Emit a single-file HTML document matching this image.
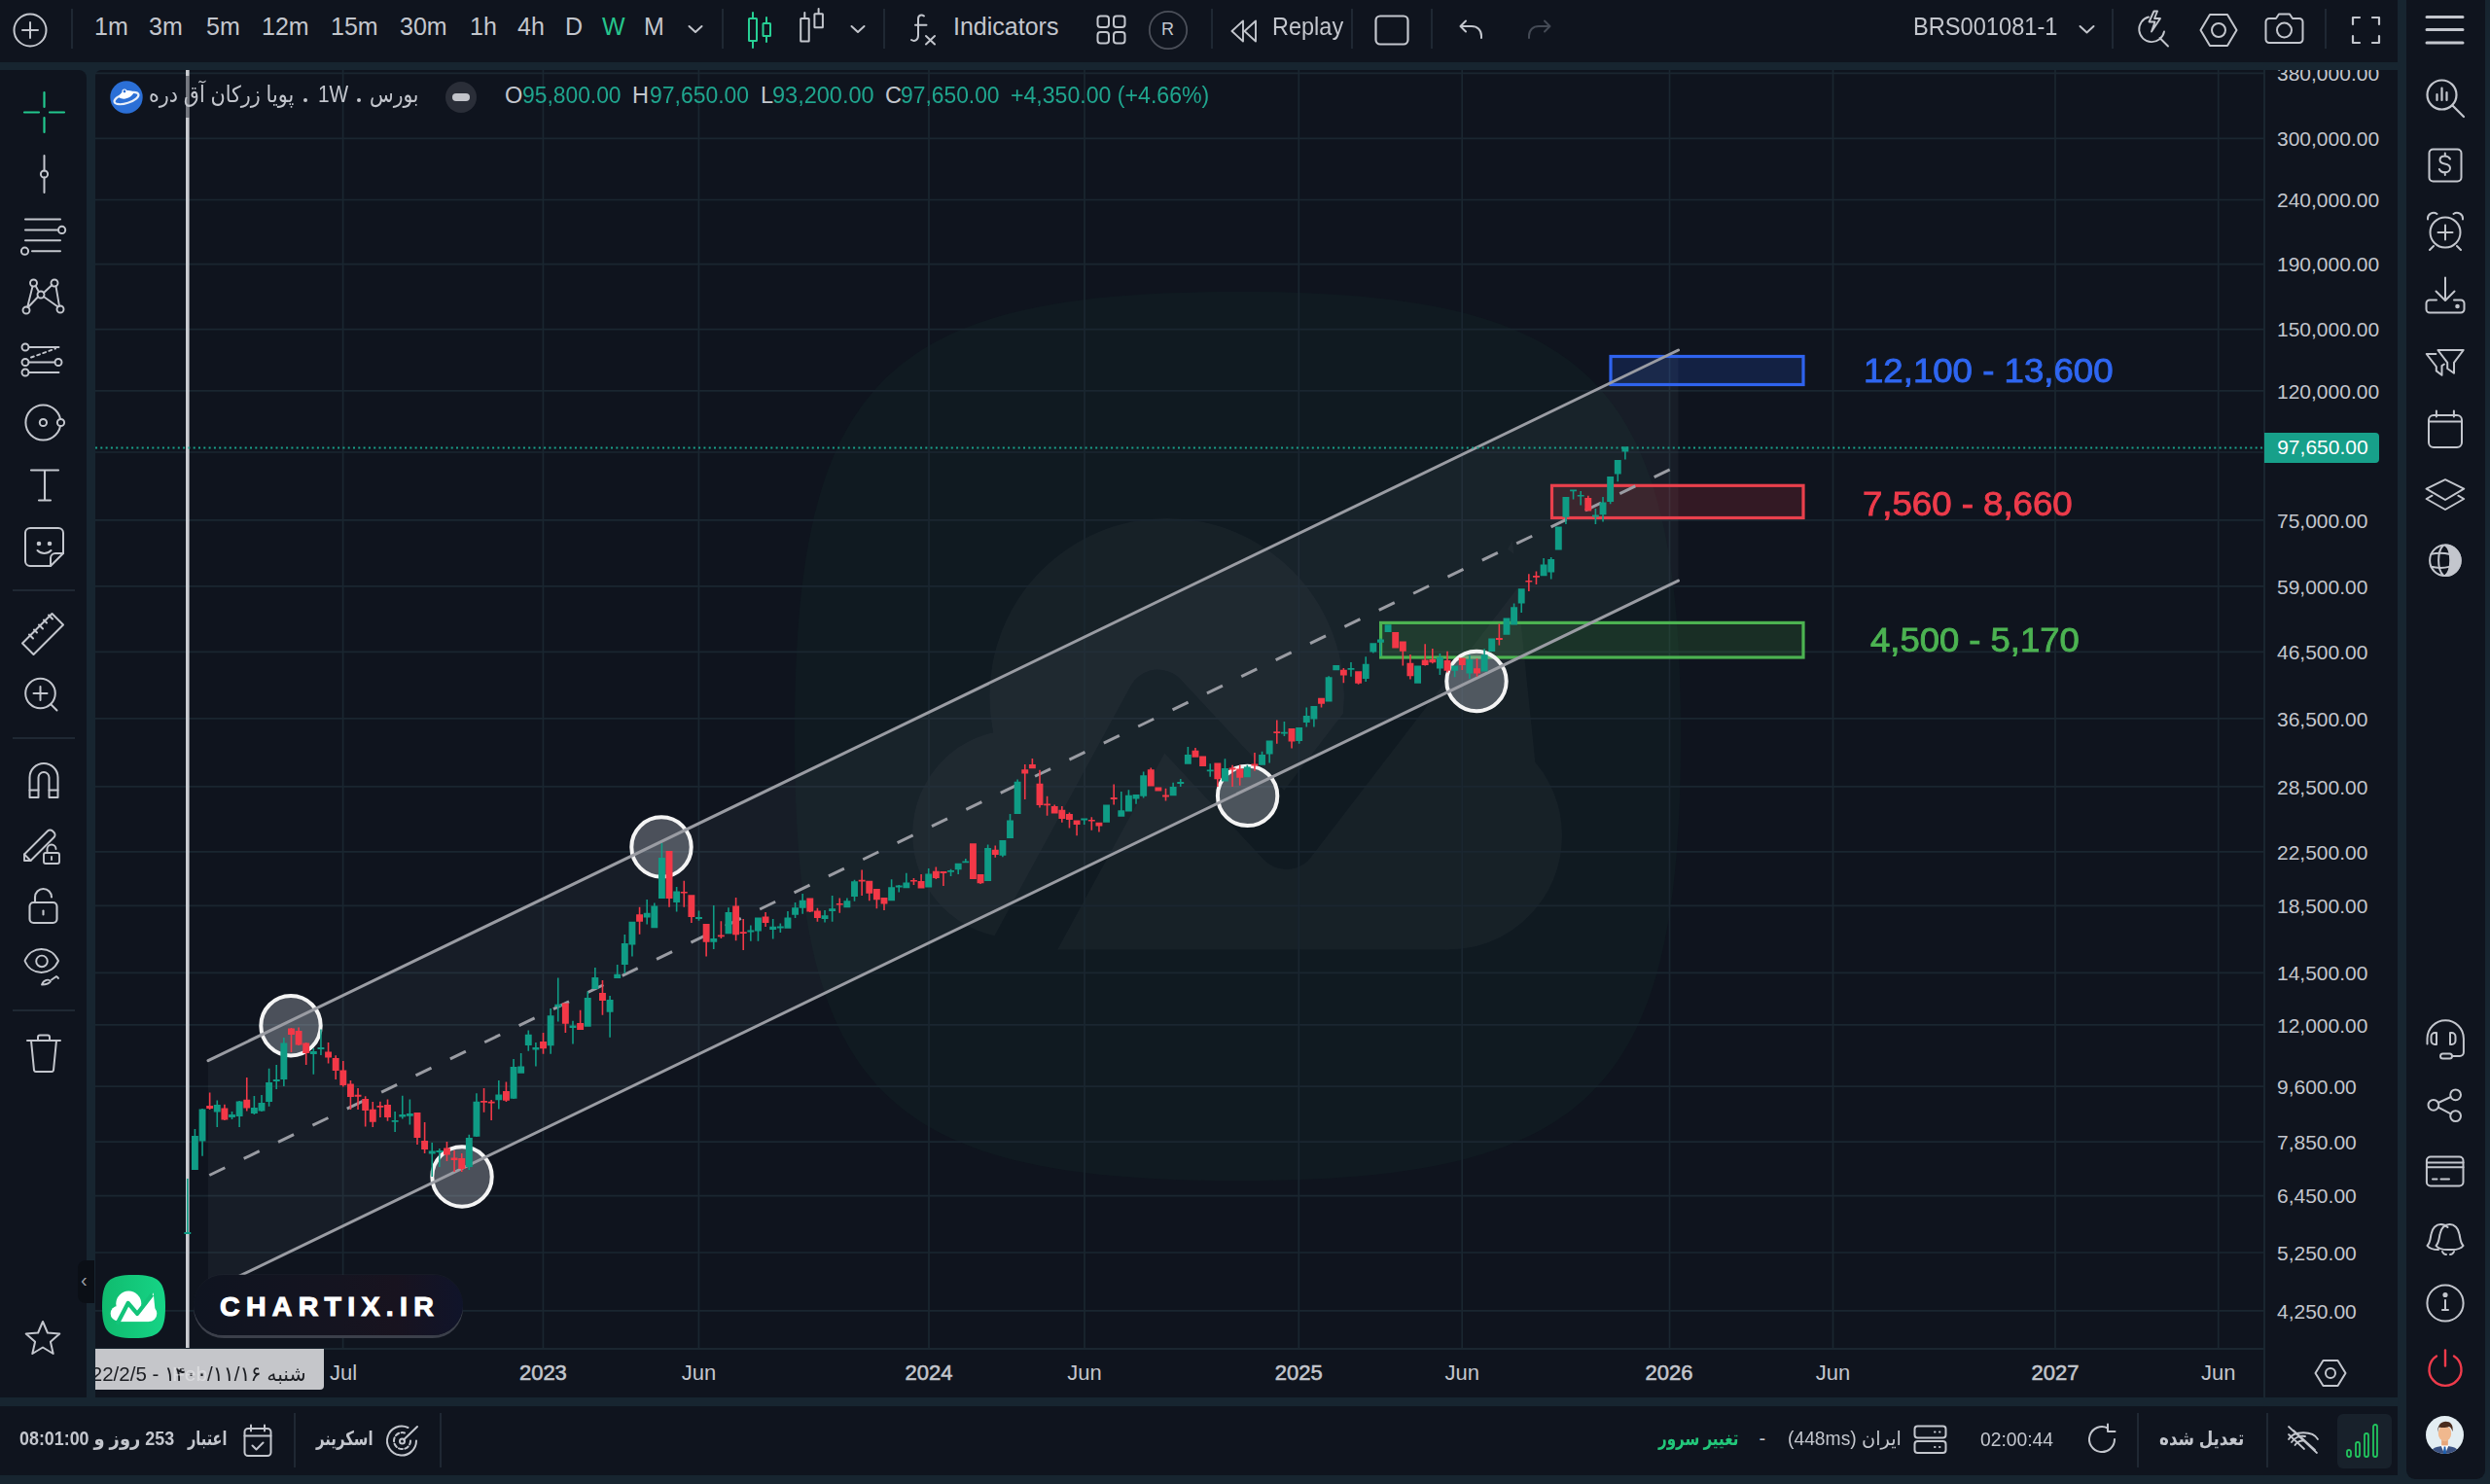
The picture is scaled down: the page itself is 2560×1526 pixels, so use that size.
<!DOCTYPE html>
<html><head><meta charset="utf-8"><title>Chart</title><style>
*{margin:0;padding:0;box-sizing:border-box}
html,body{width:2560px;height:1526px;overflow:hidden;background:#172530}
body{position:relative;font-family:"Liberation Sans","DejaVu Sans",sans-serif;color:#c4c7ce}
.a{position:absolute}
.t{position:absolute;white-space:nowrap;line-height:1}
.fa{font-family:"Liberation Sans","DejaVu Sans",sans-serif}
svg{position:absolute;overflow:visible}
</style></head>
<body>
<div class="a" style="left:0;top:0;width:2465px;height:64px;background:#0f141e"></div><div class="a" style="left:2473.5px;top:0;width:81px;height:1521px;background:#0f141e;border-radius:0 0 9px 9px"></div><div class="a" style="left:0;top:72px;width:89px;height:1365px;background:#0f141e;border-top-right-radius:8px"></div><div class="a" style="left:98px;top:72px;width:2367px;height:1365px;background:#0f141e;border-top-left-radius:6px"></div><div class="a" style="left:0;top:1446px;width:2465px;height:71px;background:#0f141e"></div><svg style="left:98px;top:72px" width="2229" height="1315" viewBox="98 72 2229 1315"><defs><clipPath id="cp"><rect x="98" y="72" width="2229" height="1315" rx="0"/></clipPath><path id="sq" d="M50,0 C90,0 100,10 100,50 C100,90 90,100 50,100 C10,100 0,90 0,50 C0,10 10,0 50,0 Z"/><g id="cloud"><circle cx="42" cy="45.5" r="20"/><circle cx="25" cy="61" r="11.7"/><circle cx="73.8" cy="61.2" r="12.8"/><rect x="25" y="48" width="48.8" height="26"/><polygon points="62,62 81,28 84.5,62"/></g></defs><g clip-path="url(#cp)"><mask id="wm" maskUnits="userSpaceOnUse" x="0" y="0" width="100" height="100"><use href="#cloud" fill="#fff"/><polyline points="23.5,78 41,46 55.5,61.5 80.5,29" fill="none" stroke="#000" stroke-width="7" stroke-linejoin="round"/></mask><g transform="translate(817,300) scale(9.11,9.14)"><use href="#sq" fill="#12302a" fill-opacity="0.26"/><rect width="100" height="100" fill="#ffffff" fill-opacity="0.032" mask="url(#wm)"/></g><line x1="98" x2="2327" y1="75.35" y2="75.35" stroke="#1a2630" stroke-width="1.7"/><line x1="98" x2="2327" y1="142.30" y2="142.30" stroke="#1a2630" stroke-width="1.7"/><line x1="98" x2="2327" y1="205.49" y2="205.49" stroke="#1a2630" stroke-width="1.7"/><line x1="98" x2="2327" y1="271.65" y2="271.65" stroke="#1a2630" stroke-width="1.7"/><line x1="98" x2="2327" y1="338.60" y2="338.60" stroke="#1a2630" stroke-width="1.7"/><line x1="98" x2="2327" y1="401.79" y2="401.79" stroke="#1a2630" stroke-width="1.7"/><line x1="98" x2="2327" y1="464.99" y2="464.99" stroke="#1a2630" stroke-width="1.7"/><line x1="98" x2="2327" y1="534.90" y2="534.90" stroke="#1a2630" stroke-width="1.7"/><line x1="98" x2="2327" y1="602.85" y2="602.85" stroke="#1a2630" stroke-width="1.7"/><line x1="98" x2="2327" y1="670.28" y2="670.28" stroke="#1a2630" stroke-width="1.7"/><line x1="98" x2="2327" y1="738.85" y2="738.85" stroke="#1a2630" stroke-width="1.7"/><line x1="98" x2="2327" y1="808.92" y2="808.92" stroke="#1a2630" stroke-width="1.7"/><line x1="98" x2="2327" y1="875.86" y2="875.86" stroke="#1a2630" stroke-width="1.7"/><line x1="98" x2="2327" y1="931.30" y2="931.30" stroke="#1a2630" stroke-width="1.7"/><line x1="98" x2="2327" y1="1000.29" y2="1000.29" stroke="#1a2630" stroke-width="1.7"/><line x1="98" x2="2327" y1="1053.89" y2="1053.89" stroke="#1a2630" stroke-width="1.7"/><line x1="98" x2="2327" y1="1117.08" y2="1117.08" stroke="#1a2630" stroke-width="1.7"/><line x1="98" x2="2327" y1="1174.07" y2="1174.07" stroke="#1a2630" stroke-width="1.7"/><line x1="98" x2="2327" y1="1229.70" y2="1229.70" stroke="#1a2630" stroke-width="1.7"/><line x1="98" x2="2327" y1="1288.00" y2="1288.00" stroke="#1a2630" stroke-width="1.7"/><line x1="98" x2="2327" y1="1347.84" y2="1347.84" stroke="#1a2630" stroke-width="1.7"/><line x1="352.6" x2="352.6" y1="72" y2="1387" stroke="#1a2630" stroke-width="1.7"/><line x1="558.4" x2="558.4" y1="72" y2="1387" stroke="#1a2630" stroke-width="1.7"/><line x1="718.4" x2="718.4" y1="72" y2="1387" stroke="#1a2630" stroke-width="1.7"/><line x1="955" x2="955" y1="72" y2="1387" stroke="#1a2630" stroke-width="1.7"/><line x1="1115" x2="1115" y1="72" y2="1387" stroke="#1a2630" stroke-width="1.7"/><line x1="1335.3" x2="1335.3" y1="72" y2="1387" stroke="#1a2630" stroke-width="1.7"/><line x1="1503.2" x2="1503.2" y1="72" y2="1387" stroke="#1a2630" stroke-width="1.7"/><line x1="1716.5" x2="1716.5" y1="72" y2="1387" stroke="#1a2630" stroke-width="1.7"/><line x1="1884.5" x2="1884.5" y1="72" y2="1387" stroke="#1a2630" stroke-width="1.7"/><line x1="2113" x2="2113" y1="72" y2="1387" stroke="#1a2630" stroke-width="1.7"/><line x1="2280.7" x2="2280.7" y1="72" y2="1387" stroke="#1a2630" stroke-width="1.7"/><polygon points="214,1090.6 1725.5,360.0 1725.5,597.1 214,1327.7" fill="#8a8f9c" fill-opacity="0.075"/><rect x="1656" y="366.5" width="198" height="29" fill="#2962ff" fill-opacity="0.17" stroke="#2f63ee" stroke-width="3.2"/><rect x="1595.5" y="499.3" width="258.5" height="33.2" fill="#f23645" fill-opacity="0.16" stroke="#e9404c" stroke-width="3.2"/><rect x="1419.6" y="640.4" width="434.4" height="35.6" fill="#4caf50" fill-opacity="0.17" stroke="#4cb351" stroke-width="3.2"/><circle cx="299" cy="1054.7" r="30.7" fill="#b4b8c2" fill-opacity="0.37" stroke="#f4f4f4" stroke-width="4"/><circle cx="475" cy="1210" r="30.7" fill="#b4b8c2" fill-opacity="0.37" stroke="#f4f4f4" stroke-width="4"/><circle cx="680" cy="871" r="30.7" fill="#b4b8c2" fill-opacity="0.37" stroke="#f4f4f4" stroke-width="4"/><circle cx="1282.6" cy="818.4" r="30.7" fill="#b4b8c2" fill-opacity="0.37" stroke="#f4f4f4" stroke-width="4"/><circle cx="1518" cy="700.5" r="30.7" fill="#b4b8c2" fill-opacity="0.37" stroke="#f4f4f4" stroke-width="4"/><line x1="214" y1="1090.6" x2="1725.5" y2="360.0" stroke="#9a9ca3" stroke-width="3" stroke-linecap="round"/><line x1="214" y1="1327.7" x2="1725.5" y2="597.1" stroke="#9a9ca3" stroke-width="3" stroke-linecap="round"/><line x1="215.3" y1="1208.5" x2="1725.5" y2="478.6" stroke="#9a9ca3" stroke-width="3" stroke-dasharray="17.8 21.48"/><rect x="191" y="72" width="3.6" height="1315" fill="#c9cbd0"/><rect x="191" y="78" width="3.6" height="43" fill="#0f141e" fill-opacity="0.45"/><path d="M192.00,1212.0h1.6V1269.0h-1.6Z M189.35,1267.0h6.9V1269.0h-6.9Z M199.62,1161.0h1.6V1203.0h-1.6Z M196.97,1168.0h6.9V1203.0h-6.9Z M207.24,1140.0h1.6V1188.7h-1.6Z M204.59,1140.6h6.9V1173.6h-6.9Z M222.48,1131.5h1.6V1159.0h-1.6Z M219.83,1136.0h6.9V1143.4h-6.9Z M237.71,1143.0h1.6V1151.0h-1.6Z M235.06,1146.0h6.9V1149.0h-6.9Z M245.33,1132.0h1.6V1159.0h-1.6Z M242.68,1132.5h6.9V1148.0h-6.9Z M260.57,1127.0h1.6V1146.0h-1.6Z M257.92,1139.0h6.9V1145.0h-6.9Z M268.19,1126.0h1.6V1143.0h-1.6Z M265.54,1134.0h6.9V1142.5h-6.9Z M275.81,1098.7h1.6V1137.7h-1.6Z M273.16,1113.0h6.9V1133.0h-6.9Z M283.43,1095.0h1.6V1120.0h-1.6Z M280.78,1110.0h6.9V1112.0h-6.9Z M291.05,1067.0h1.6V1117.0h-1.6Z M288.40,1072.6h6.9V1110.0h-6.9Z M321.52,1078.0h1.6V1104.7h-1.6Z M318.87,1081.0h6.9V1084.0h-6.9Z M329.14,1058.5h1.6V1085.0h-1.6Z M326.49,1077.0h6.9V1079.0h-6.9Z M405.33,1143.0h1.6V1164.0h-1.6Z M402.68,1152.0h6.9V1153.7h-6.9Z M412.95,1126.8h1.6V1150.5h-1.6Z M410.30,1146.0h6.9V1148.4h-6.9Z M420.57,1130.6h1.6V1156.4h-1.6Z M417.92,1145.0h6.9V1147.8h-6.9Z M443.43,1175.0h1.6V1210.0h-1.6Z M440.78,1183.6h6.9V1186.6h-6.9Z M451.05,1181.0h1.6V1200.0h-1.6Z M448.40,1183.0h6.9V1185.0h-6.9Z M481.52,1166.7h1.6V1203.0h-1.6Z M478.87,1170.0h6.9V1200.0h-6.9Z M489.14,1124.3h1.6V1169.0h-1.6Z M486.49,1132.7h6.9V1168.7h-6.9Z M512.00,1111.0h1.6V1140.4h-1.6Z M509.35,1125.6h6.9V1131.3h-6.9Z M527.24,1089.0h1.6V1130.0h-1.6Z M524.59,1097.0h6.9V1129.8h-6.9Z M534.86,1083.0h1.6V1103.7h-1.6Z M532.20,1096.5h6.9V1103.7h-6.9Z M542.47,1059.5h1.6V1080.7h-1.6Z M539.82,1063.7h6.9V1075.0h-6.9Z M550.09,1072.0h1.6V1096.5h-1.6Z M547.44,1077.0h6.9V1079.5h-6.9Z M565.33,1037.0h1.6V1083.7h-1.6Z M562.68,1044.3h6.9V1075.2h-6.9Z M572.95,1005.5h1.6V1050.4h-1.6Z M570.30,1032.8h6.9V1035.2h-6.9Z M588.19,1049.8h1.6V1073.4h-1.6Z M585.54,1054.6h6.9V1057.0h-6.9Z M603.43,1019.4h1.6V1055.8h-1.6Z M600.78,1026.0h6.9V1055.8h-6.9Z M611.05,995.0h1.6V1017.0h-1.6Z M608.39,1005.0h6.9V1017.0h-6.9Z M626.28,1024.0h1.6V1066.7h-1.6Z M623.63,1028.0h6.9V1040.7h-6.9Z M633.90,992.0h1.6V1006.0h-1.6Z M631.25,1001.8h6.9V1006.0h-6.9Z M641.52,961.0h1.6V1001.0h-1.6Z M638.87,970.0h6.9V992.0h-6.9Z M649.14,947.8h1.6V983.4h-1.6Z M646.49,947.8h6.9V971.5h-6.9Z M664.38,925.0h1.6V950.5h-1.6Z M661.73,938.7h6.9V943.5h-6.9Z M672.00,928.4h1.6V954.3h-1.6Z M669.35,931.6h6.9V954.3h-6.9Z M679.62,867.0h1.6V924.0h-1.6Z M676.97,882.0h6.9V924.0h-6.9Z M694.85,912.0h1.6V937.6h-1.6Z M692.20,916.5h6.9V928.0h-6.9Z M717.71,936.5h1.6V946.7h-1.6Z M715.06,943.1h6.9V944.9h-6.9Z M732.95,931.0h1.6V975.9h-1.6Z M730.30,965.0h6.9V968.8h-6.9Z M748.19,933.3h1.6V960.2h-1.6Z M745.54,938.0h6.9V960.2h-6.9Z M771.04,951.6h1.6V967.8h-1.6Z M768.39,956.6h6.9V958.4h-6.9Z M778.66,943.5h1.6V967.8h-1.6Z M776.01,943.5h6.9V957.5h-6.9Z M793.90,945.0h1.6V965.6h-1.6Z M791.25,952.7h6.9V956.0h-6.9Z M801.52,949.4h1.6V959.0h-1.6Z M798.87,952.6h6.9V954.4h-6.9Z M809.14,937.0h1.6V954.8h-1.6Z M806.49,943.5h6.9V954.8h-6.9Z M816.76,928.0h1.6V944.0h-1.6Z M814.11,933.3h6.9V940.8h-6.9Z M824.38,919.0h1.6V939.7h-1.6Z M821.73,925.7h6.9V933.8h-6.9Z M847.23,936.0h1.6V948.4h-1.6Z M844.58,941.3h6.9V945.0h-6.9Z M854.85,921.0h1.6V947.8h-1.6Z M852.20,934.3h6.9V937.0h-6.9Z M870.09,923.6h1.6V933.3h-1.6Z M867.44,926.3h6.9V933.3h-6.9Z M877.71,904.7h1.6V926.8h-1.6Z M875.06,906.3h6.9V922.0h-6.9Z M915.81,904.2h1.6V926.3h-1.6Z M913.15,912.2h6.9V926.3h-6.9Z M923.42,910.0h1.6V917.6h-1.6Z M920.77,910.6h6.9V912.4h-6.9Z M931.04,897.7h1.6V913.3h-1.6Z M928.39,907.4h6.9V913.3h-6.9Z M953.90,893.0h1.6V912.6h-1.6Z M951.25,898.5h6.9V912.6h-6.9Z M976.76,893.7h1.6V901.0h-1.6Z M974.11,894.9h6.9V896.7h-6.9Z M984.38,887.8h1.6V899.0h-1.6Z M981.73,887.8h6.9V894.2h-6.9Z M992.00,883.0h1.6V887.2h-1.6Z M989.35,885.6h6.9V887.2h-6.9Z M1014.85,868.4h1.6V906.0h-1.6Z M1012.20,872.0h6.9V906.0h-6.9Z M1030.09,864.0h1.6V881.3h-1.6Z M1027.44,864.0h6.9V879.7h-6.9Z M1037.71,837.0h1.6V861.9h-1.6Z M1035.06,843.6h6.9V861.9h-6.9Z M1045.33,801.5h1.6V837.0h-1.6Z M1042.68,803.7h6.9V837.0h-6.9Z M1113.90,841.6h1.6V847.9h-1.6Z M1111.25,841.6h6.9V843.4h-6.9Z M1136.76,827.4h1.6V845.7h-1.6Z M1134.11,827.4h6.9V845.7h-6.9Z M1151.99,814.0h1.6V839.8h-1.6Z M1149.34,833.3h6.9V839.8h-6.9Z M1159.61,812.3h1.6V834.4h-1.6Z M1156.96,817.7h6.9V834.4h-6.9Z M1167.23,817.0h1.6V826.8h-1.6Z M1164.58,817.0h6.9V821.5h-6.9Z M1174.85,793.4h1.6V820.4h-1.6Z M1172.20,797.2h6.9V818.8h-6.9Z M1205.33,804.7h1.6V818.2h-1.6Z M1202.68,809.0h6.9V818.2h-6.9Z M1212.95,801.0h1.6V809.0h-1.6Z M1210.30,804.1h6.9V805.9h-6.9Z M1220.57,768.0h1.6V785.7h-1.6Z M1217.91,776.0h6.9V785.7h-6.9Z M1243.42,785.2h1.6V798.7h-1.6Z M1240.77,791.6h6.9V793.3h-6.9Z M1258.66,780.3h1.6V803.5h-1.6Z M1256.01,790.0h6.9V803.5h-6.9Z M1281.52,786.8h1.6V799.2h-1.6Z M1278.87,788.4h6.9V799.2h-6.9Z M1296.75,772.8h1.6V786.8h-1.6Z M1294.10,776.0h6.9V786.8h-6.9Z M1304.37,761.5h1.6V784.6h-1.6Z M1301.72,761.5h6.9V775.5h-6.9Z M1319.61,742.0h1.6V757.1h-1.6Z M1316.96,752.8h6.9V754.6h-6.9Z M1334.85,748.0h1.6V764.7h-1.6Z M1332.20,748.0h6.9V762.0h-6.9Z M1342.47,727.5h1.6V747.4h-1.6Z M1339.82,736.1h6.9V743.1h-6.9Z M1350.09,725.9h1.6V747.4h-1.6Z M1347.44,725.9h6.9V739.4h-6.9Z M1365.33,695.2h1.6V721.6h-1.6Z M1362.68,696.3h6.9V721.6h-6.9Z M1372.94,683.9h1.6V689.2h-1.6Z M1370.29,683.9h6.9V689.2h-6.9Z M1388.18,681.0h1.6V695.7h-1.6Z M1385.53,687.0h6.9V688.7h-6.9Z M1403.42,675.2h1.6V701.0h-1.6Z M1400.77,682.8h6.9V697.9h-6.9Z M1411.04,661.2h1.6V671.5h-1.6Z M1408.39,661.2h6.9V670.4h-6.9Z M1418.66,656.4h1.6V674.7h-1.6Z M1416.01,657.4h6.9V660.7h-6.9Z M1426.28,642.3h1.6V649.9h-1.6Z M1423.63,642.3h6.9V649.9h-6.9Z M1456.75,684.4h1.6V702.7h-1.6Z M1454.10,684.4h6.9V702.7h-6.9Z M1479.61,672.0h1.6V694.0h-1.6Z M1476.96,675.8h6.9V687.6h-6.9Z M1494.85,684.4h1.6V696.3h-1.6Z M1492.20,684.4h6.9V689.8h-6.9Z M1510.09,673.6h1.6V698.0h-1.6Z M1507.44,678.0h6.9V692.6h-6.9Z M1525.33,667.3h1.6V690.5h-1.6Z M1522.67,673.2h6.9V690.5h-6.9Z M1532.94,656.5h1.6V670.0h-1.6Z M1530.29,656.5h6.9V670.0h-6.9Z M1548.18,635.5h1.6V652.7h-1.6Z M1545.53,635.5h6.9V652.7h-6.9Z M1555.80,620.4h1.6V642.5h-1.6Z M1553.15,624.2h6.9V642.5h-6.9Z M1563.42,605.3h1.6V630.0h-1.6Z M1560.77,605.3h6.9V620.4h-6.9Z M1586.28,574.0h1.6V592.3h-1.6Z M1583.63,580.5h6.9V592.3h-6.9Z M1593.90,573.0h1.6V595.6h-1.6Z M1591.25,575.0h6.9V588.6h-6.9Z M1601.51,541.4h1.6V565.6h-1.6Z M1598.86,541.4h6.9V565.6h-6.9Z M1609.13,511.0h1.6V539.0h-1.6Z M1606.48,511.0h6.9V531.7h-6.9Z M1616.75,503.5h1.6V513.5h-1.6Z M1614.10,503.5h6.9V505.3h-6.9Z M1624.37,505.0h1.6V519.5h-1.6Z M1621.72,508.9h6.9V510.6h-6.9Z M1639.61,523.0h1.6V539.0h-1.6Z M1636.96,529.6h6.9V531.4h-6.9Z M1647.23,511.0h1.6V536.5h-1.6Z M1644.58,516.6h6.9V529.2h-6.9Z M1654.85,490.0h1.6V518.3h-1.6Z M1652.20,490.0h6.9V516.0h-6.9Z M1662.47,473.0h1.6V495.3h-1.6Z M1659.82,473.0h6.9V487.5h-6.9Z M1670.09,459.2h1.6V472.4h-1.6Z M1667.44,459.2h6.9V464.6h-6.9Z" fill="#0f9c85"/><path d="M214.86,1123.6h1.6V1141.0h-1.6Z M212.21,1137.0h6.9V1140.0h-6.9Z M230.09,1135.8h1.6V1152.0h-1.6Z M227.45,1139.6h6.9V1151.5h-6.9Z M252.95,1108.0h1.6V1142.5h-1.6Z M250.30,1130.8h6.9V1139.6h-6.9Z M298.67,1057.0h1.6V1082.0h-1.6Z M296.02,1057.5h6.9V1064.0h-6.9Z M306.29,1056.6h1.6V1075.0h-1.6Z M303.64,1060.0h6.9V1074.5h-6.9Z M313.90,1072.0h1.6V1095.0h-1.6Z M311.25,1072.6h6.9V1083.0h-6.9Z M336.76,1072.0h1.6V1093.4h-1.6Z M334.11,1081.5h6.9V1087.4h-6.9Z M344.38,1085.3h1.6V1110.0h-1.6Z M341.73,1088.0h6.9V1101.0h-6.9Z M352.00,1091.0h1.6V1117.6h-1.6Z M349.35,1100.4h6.9V1116.0h-6.9Z M359.62,1111.0h1.6V1141.0h-1.6Z M356.97,1114.4h6.9V1127.9h-6.9Z M367.24,1119.0h1.6V1141.0h-1.6Z M364.59,1125.8h6.9V1127.7h-6.9Z M374.86,1127.3h1.6V1158.6h-1.6Z M372.21,1130.0h6.9V1142.0h-6.9Z M382.47,1133.0h1.6V1159.0h-1.6Z M379.82,1140.8h6.9V1153.7h-6.9Z M390.09,1132.7h1.6V1149.0h-1.6Z M387.44,1136.9h6.9V1138.7h-6.9Z M397.71,1130.6h1.6V1152.7h-1.6Z M395.06,1136.0h6.9V1149.0h-6.9Z M428.19,1144.0h1.6V1177.0h-1.6Z M425.54,1144.0h6.9V1170.0h-6.9Z M435.81,1154.0h1.6V1186.0h-1.6Z M433.16,1173.0h6.9V1182.0h-6.9Z M458.66,1174.0h1.6V1194.0h-1.6Z M456.01,1180.5h6.9V1187.6h-6.9Z M466.28,1183.0h1.6V1205.0h-1.6Z M463.63,1190.6h6.9V1193.0h-6.9Z M473.90,1186.0h1.6V1205.0h-1.6Z M471.25,1191.0h6.9V1202.0h-6.9Z M496.76,1119.0h1.6V1143.8h-1.6Z M494.11,1131.9h6.9V1133.8h-6.9Z M504.38,1131.0h1.6V1152.0h-1.6Z M501.73,1132.8h6.9V1134.6h-6.9Z M519.62,1112.5h1.6V1133.0h-1.6Z M516.97,1122.0h6.9V1131.7h-6.9Z M557.71,1062.0h1.6V1083.7h-1.6Z M555.06,1071.0h6.9V1078.3h-6.9Z M580.57,1031.6h1.6V1062.0h-1.6Z M577.92,1031.6h6.9V1052.8h-6.9Z M595.81,1038.8h1.6V1059.0h-1.6Z M593.16,1052.0h6.9V1059.0h-6.9Z M618.66,1008.0h1.6V1043.7h-1.6Z M616.01,1021.0h6.9V1029.0h-6.9Z M656.76,932.7h1.6V960.8h-1.6Z M654.11,940.3h6.9V947.8h-6.9Z M687.24,875.0h1.6V932.7h-1.6Z M684.59,875.0h6.9V924.0h-6.9Z M702.47,905.8h1.6V932.7h-1.6Z M699.82,916.9h6.9V918.6h-6.9Z M710.09,920.3h1.6V949.0h-1.6Z M707.44,920.3h6.9V943.0h-6.9Z M725.33,950.0h1.6V983.4h-1.6Z M722.68,950.0h6.9V968.8h-6.9Z M740.57,947.3h1.6V965.0h-1.6Z M737.92,961.5h6.9V963.3h-6.9Z M755.81,923.0h1.6V967.2h-1.6Z M753.16,931.6h6.9V961.3h-6.9Z M763.42,945.0h1.6V977.0h-1.6Z M760.77,958.3h6.9V960.1h-6.9Z M786.28,938.0h1.6V953.0h-1.6Z M783.63,942.4h6.9V949.0h-6.9Z M832.00,923.6h1.6V938.0h-1.6Z M829.35,923.6h6.9V937.6h-6.9Z M839.62,933.8h1.6V947.8h-1.6Z M836.96,936.5h6.9V944.0h-6.9Z M862.47,923.6h1.6V938.7h-1.6Z M859.82,929.0h6.9V930.6h-6.9Z M885.33,894.4h1.6V920.9h-1.6Z M882.68,904.8h6.9V906.5h-6.9Z M892.95,905.8h1.6V926.3h-1.6Z M890.30,905.8h6.9V918.7h-6.9Z M900.57,913.9h1.6V934.3h-1.6Z M897.92,913.9h6.9V925.2h-6.9Z M908.19,923.0h1.6V936.0h-1.6Z M905.54,923.0h6.9V929.5h-6.9Z M938.66,902.9h1.6V910.0h-1.6Z M936.01,905.0h6.9V906.6h-6.9Z M946.28,899.0h1.6V913.6h-1.6Z M943.63,906.0h6.9V913.6h-6.9Z M961.52,891.5h1.6V904.0h-1.6Z M958.87,895.8h6.9V902.9h-6.9Z M969.14,896.1h1.6V911.0h-1.6Z M966.49,896.1h6.9V897.9h-6.9Z M999.61,867.3h1.6V904.0h-1.6Z M996.96,867.3h6.9V904.0h-6.9Z M1007.23,899.0h1.6V909.0h-1.6Z M1004.58,899.0h6.9V908.2h-6.9Z M1022.47,869.4h1.6V881.8h-1.6Z M1019.82,873.7h6.9V879.0h-6.9Z M1052.95,786.0h1.6V822.0h-1.6Z M1050.30,791.3h6.9V795.6h-6.9Z M1060.57,780.0h1.6V790.2h-1.6Z M1057.92,786.0h6.9V790.2h-6.9Z M1068.18,791.8h1.6V830.6h-1.6Z M1065.53,805.8h6.9V828.0h-6.9Z M1075.80,818.8h1.6V838.7h-1.6Z M1073.15,826.5h6.9V828.3h-6.9Z M1083.42,827.4h1.6V836.5h-1.6Z M1080.77,829.0h6.9V836.5h-6.9Z M1091.04,829.0h1.6V845.7h-1.6Z M1088.39,832.8h6.9V842.0h-6.9Z M1098.66,835.5h1.6V851.6h-1.6Z M1096.01,837.0h6.9V843.0h-6.9Z M1106.28,843.6h1.6V859.2h-1.6Z M1103.63,843.6h6.9V847.9h-6.9Z M1121.52,840.3h1.6V853.8h-1.6Z M1118.87,843.0h6.9V844.6h-6.9Z M1129.14,845.7h1.6V855.4h-1.6Z M1126.49,845.7h6.9V849.5h-6.9Z M1144.38,806.4h1.6V827.4h-1.6Z M1141.72,820.1h6.9V821.9h-6.9Z M1182.47,789.6h1.6V808.5h-1.6Z M1179.82,791.3h6.9V808.5h-6.9Z M1190.09,809.6h1.6V813.4h-1.6Z M1187.44,809.6h6.9V813.4h-6.9Z M1197.71,810.7h1.6V823.6h-1.6Z M1195.06,817.6h6.9V819.4h-6.9Z M1228.18,769.0h1.6V778.7h-1.6Z M1225.53,771.7h6.9V778.7h-6.9Z M1235.80,777.6h1.6V787.9h-1.6Z M1233.15,777.6h6.9V787.9h-6.9Z M1251.04,784.6h1.6V809.0h-1.6Z M1248.39,784.6h6.9V801.3h-6.9Z M1266.28,786.8h1.6V809.0h-1.6Z M1263.63,789.5h6.9V791.6h-6.9Z M1273.90,786.8h1.6V807.8h-1.6Z M1271.25,790.6h6.9V799.7h-6.9Z M1289.14,773.9h1.6V792.7h-1.6Z M1286.49,785.6h6.9V787.4h-6.9Z M1311.99,740.4h1.6V764.7h-1.6Z M1309.34,752.2h6.9V754.0h-6.9Z M1327.23,749.0h1.6V769.5h-1.6Z M1324.58,749.0h6.9V762.5h-6.9Z M1357.71,717.8h1.6V727.5h-1.6Z M1355.06,717.8h6.9V723.7h-6.9Z M1380.56,687.0h1.6V702.2h-1.6Z M1377.91,688.7h6.9V694.6h-6.9Z M1395.80,690.3h1.6V703.8h-1.6Z M1393.15,690.3h6.9V702.7h-6.9Z M1433.90,649.9h1.6V666.6h-1.6Z M1431.25,649.9h6.9V666.6h-6.9Z M1441.52,659.6h1.6V684.4h-1.6Z M1438.87,659.6h6.9V669.8h-6.9Z M1449.13,673.0h1.6V698.4h-1.6Z M1446.48,681.7h6.9V695.2h-6.9Z M1464.37,662.3h1.6V684.4h-1.6Z M1461.72,678.5h6.9V683.9h-6.9Z M1471.99,667.0h1.6V682.2h-1.6Z M1469.34,678.0h6.9V681.2h-6.9Z M1487.23,669.8h1.6V691.4h-1.6Z M1484.58,679.0h6.9V689.8h-6.9Z M1502.47,676.4h1.6V689.0h-1.6Z M1499.82,676.4h6.9V684.0h-6.9Z M1517.71,677.0h1.6V695.8h-1.6Z M1515.06,687.2h6.9V692.6h-6.9Z M1540.56,641.4h1.6V663.5h-1.6Z M1537.91,656.1h6.9V657.9h-6.9Z M1571.04,590.2h1.6V608.0h-1.6Z M1568.39,596.9h6.9V598.6h-6.9Z M1578.66,587.5h1.6V601.0h-1.6Z M1576.01,591.9h6.9V593.7h-6.9Z M1631.99,509.8h1.6V525.6h-1.6Z M1629.34,512.0h6.9V525.6h-6.9Z" fill="#f23847"/><line x1="98" x2="2327" y1="460.5" y2="460.5" stroke="#1aa089" stroke-width="2" stroke-dasharray="2 3.3"/></g></svg><div id="m_1" class="t fa" style="left:1916px;top:362.5725px;font-size:35px;color:#2f66f0;font-weight:400;transform-origin:0 0;transform:scaleX(1.0461);-webkit-text-stroke:0.9px #2f66f0">12,100 - 13,600</div><div id="m_2" class="t fa" style="left:1915px;top:499.57250000000005px;font-size:35px;color:#ee3b4b;font-weight:400;transform-origin:0 0;transform:scaleX(1.0456);-webkit-text-stroke:0.9px #ee3b4b">7,560 - 8,660</div><div id="m_3" class="t fa" style="left:1922.5px;top:639.8725px;font-size:35px;color:#4cb352;font-weight:400;transform-origin:0 0;transform:scaleX(1.0413);-webkit-text-stroke:0.9px #4cb352">4,500 - 5,170</div><svg style="left:113px;top:83px" width="34" height="34" viewBox="0 0 34 34"><circle cx="17" cy="17" r="16.7" fill="#2b6fd6"/><ellipse cx="17" cy="18" rx="13" ry="5" transform="rotate(-18 17 18)" fill="none" stroke="#e8eef8" stroke-width="2.2"/><path d="M9,17 C11,10 20,8 25,12 C22,17 15,21 9,17Z" fill="#ffffff"/><circle cx="15" cy="11" r="2" fill="#2b6fd6" stroke="#fff" stroke-width="1.2"/></svg><div id="m_4" class="t fa" style="left:153.4px;top:85.7px;font-size:23.5px;color:#c3c6cd;font-weight:400;direction:rtl;transform-origin:0 0;transform:scaleX(0.8817);">پویا زرکان آق دره</div><div class="a" style="left:312.3px;top:101px;width:3.6px;height:3.6px;border-radius:2px;background:#c3c6cd"></div><div id="m_5" class="t fa" style="left:327px;top:85.7px;font-size:23.5px;color:#c3c6cd;font-weight:400;transform-origin:0 0;transform:scaleX(0.8857);">1W</div><div class="a" style="left:367.3px;top:101px;width:3.6px;height:3.6px;border-radius:2px;background:#c3c6cd"></div><div id="m_6" class="t fa" style="left:380px;top:85.7px;font-size:23.5px;color:#c3c6cd;font-weight:400;direction:rtl;transform-origin:0 0;transform:scaleX(0.8593);">بورس</div><div class="a" style="left:458px;top:84px;width:32px;height:32px;border-radius:16px;background:#2a2e38"></div><div class="a" style="left:465px;top:96px;width:18px;height:8px;border-radius:4px;background:#c2c4ca"></div><div class="t" style="left:519px;top:87px;font-size:23.5px;color:#c3c6cd">O</div><div id="m_7" class="t fa" style="left:536.5px;top:87px;font-size:23.5px;color:#1fa58e;font-weight:400;transform-origin:0 0;transform:scaleX(0.9714);">95,800.00</div><div class="t" style="left:650px;top:87px;font-size:23.5px;color:#c3c6cd">H</div><div id="m_8" class="t fa" style="left:667.8px;top:87px;font-size:23.5px;color:#1fa58e;font-weight:400;transform-origin:0 0;transform:scaleX(0.9762);">97,650.00</div><div class="t" style="left:782px;top:87px;font-size:23.5px;color:#c3c6cd">L</div><div id="m_9" class="t fa" style="left:794.2px;top:87px;font-size:23.5px;color:#1fa58e;font-weight:400;transform-origin:0 0;transform:scaleX(1.0010);">93,200.00</div><div class="t" style="left:910px;top:87px;font-size:23.5px;color:#c3c6cd">C</div><div id="m_10" class="t fa" style="left:926.2px;top:87px;font-size:23.5px;color:#1fa58e;font-weight:400;transform-origin:0 0;transform:scaleX(0.9714);">97,650.00</div><div id="m_11" class="t fa" style="left:1039px;top:87px;font-size:23.5px;color:#1fa58e;font-weight:400;transform-origin:0 0;transform:scaleX(0.9832);">+4,350.00 (+4.66%)</div><div class="a" style="left:2327px;top:72px;width:1.5px;height:1365px;background:#1a2630"></div><div class="a" style="left:2327px;top:72px;width:138px;height:1315px;overflow:hidden"><div class="t" style="left:14px;top:-6.9px;font-size:21px;color:#c3c6cd">380,000.00</div><div class="t" style="left:14px;top:60.0px;font-size:21px;color:#c3c6cd">300,000.00</div><div class="t" style="left:14px;top:123.2px;font-size:21px;color:#c3c6cd">240,000.00</div><div class="t" style="left:14px;top:189.4px;font-size:21px;color:#c3c6cd">190,000.00</div><div class="t" style="left:14px;top:256.3px;font-size:21px;color:#c3c6cd">150,000.00</div><div class="t" style="left:14px;top:319.5px;font-size:21px;color:#c3c6cd">120,000.00</div><div class="t" style="left:14px;top:452.6px;font-size:21px;color:#c3c6cd">75,000.00</div><div class="t" style="left:14px;top:520.6px;font-size:21px;color:#c3c6cd">59,000.00</div><div class="t" style="left:14px;top:588.0px;font-size:21px;color:#c3c6cd">46,500.00</div><div class="t" style="left:14px;top:656.6px;font-size:21px;color:#c3c6cd">36,500.00</div><div class="t" style="left:14px;top:726.6px;font-size:21px;color:#c3c6cd">28,500.00</div><div class="t" style="left:14px;top:793.6px;font-size:21px;color:#c3c6cd">22,500.00</div><div class="t" style="left:14px;top:849.0px;font-size:21px;color:#c3c6cd">18,500.00</div><div class="t" style="left:14px;top:918.0px;font-size:21px;color:#c3c6cd">14,500.00</div><div class="t" style="left:14px;top:971.6px;font-size:21px;color:#c3c6cd">12,000.00</div><div class="t" style="left:14px;top:1034.8px;font-size:21px;color:#c3c6cd">9,600.00</div><div class="t" style="left:14px;top:1091.8px;font-size:21px;color:#c3c6cd">7,850.00</div><div class="t" style="left:14px;top:1147.4px;font-size:21px;color:#c3c6cd">6,450.00</div><div class="t" style="left:14px;top:1205.7px;font-size:21px;color:#c3c6cd">5,250.00</div><div class="t" style="left:14px;top:1265.5px;font-size:21px;color:#c3c6cd">4,250.00</div></div><div class="a" style="left:2328px;top:445px;width:118px;height:31px;border-radius:0 4px 4px 0;background:#17a08a"></div><div class="t" style="left:2341.2px;top:449px;font-size:21px;color:#ffffff">97,650.00</div><div class="a" style="left:98px;top:1386px;width:2229px;height:2px;background:#1a2630"></div><div class="t" style="left:293px;width:120px;text-align:center;top:1401.3px;font-size:22px;color:#c3c6cd;">Jul</div><div class="t" style="left:498.4px;width:120px;text-align:center;top:1401.3px;font-size:22px;color:#c3c6cd;-webkit-text-stroke:0.55px #c3c6cd;">2023</div><div class="t" style="left:658.4px;width:120px;text-align:center;top:1401.3px;font-size:22px;color:#c3c6cd;">Jun</div><div class="t" style="left:895px;width:120px;text-align:center;top:1401.3px;font-size:22px;color:#c3c6cd;-webkit-text-stroke:0.55px #c3c6cd;">2024</div><div class="t" style="left:1055px;width:120px;text-align:center;top:1401.3px;font-size:22px;color:#c3c6cd;">Jun</div><div class="t" style="left:1275.3px;width:120px;text-align:center;top:1401.3px;font-size:22px;color:#c3c6cd;-webkit-text-stroke:0.55px #c3c6cd;">2025</div><div class="t" style="left:1443.2px;width:120px;text-align:center;top:1401.3px;font-size:22px;color:#c3c6cd;">Jun</div><div class="t" style="left:1656px;width:120px;text-align:center;top:1401.3px;font-size:22px;color:#c3c6cd;-webkit-text-stroke:0.55px #c3c6cd;">2026</div><div class="t" style="left:1824.5px;width:120px;text-align:center;top:1401.3px;font-size:22px;color:#c3c6cd;">Jun</div><div class="t" style="left:2053px;width:120px;text-align:center;top:1401.3px;font-size:22px;color:#c3c6cd;-webkit-text-stroke:0.55px #c3c6cd;">2027</div><div class="t" style="left:2220.7px;width:120px;text-align:center;top:1401.3px;font-size:22px;color:#c3c6cd;">Jun</div><div class="a" style="left:98px;top:1387px;width:235px;height:42px;background:#c5c6ca;border-radius:0 0 4px 0;overflow:hidden"><div id="m_12" class="t fa" style="left:-27px;top:14.523499999999952px;font-size:21px;color:#1b1d22;font-weight:400;transform-origin:0 0;transform:scaleX(0.9760);">2022/2/5 - ۱۴۰۰/۱۱/۱۶ شنبه</div><div class="t" style="left:79px;top:14.5px;font-size:21px;color:#f0f0f2;opacity:0.5">Feb</div></div><svg style="left:105px;top:1311px" width="65" height="65" viewBox="0 0 100 100"><defs><linearGradient id="lg" x1="0" y1="0" x2="1" y2="0"><stop offset="0" stop-color="#10bb6e"/><stop offset="1" stop-color="#16d486"/></linearGradient></defs><use href="#sq" fill="url(#lg)"/><use href="#cloud" fill="#ffffff"/><polyline points="23.5,78 41,44.5 55.5,61.5 79,31" fill="none" stroke="#13c47a" stroke-width="6.5" stroke-linejoin="round"/></svg><div class="a" style="left:199px;top:1311px;width:277px;height:62px;border-radius:31px;background:linear-gradient(90deg,#0f1420 0%,#151420 55%,#18131f 75%,#10142a 100%);box-shadow:0 3px 0 #3b3f4a, 0 -1px 0 rgba(40,44,56,0.3)"></div><div class="t" style="left:226px;top:1328.5px;font-size:28.5px;font-weight:700;color:#ffffff;letter-spacing:6.3px;-webkit-text-stroke:1.1px #fff">CHARTIX.IR</div><div class="a" style="left:80px;top:1296px;width:17px;height:44px;border-radius:8px 0 0 8px;background:#0b0f16"></div><div class="t" style="left:83px;top:1306px;font-size:20px;color:#9a9da5">‹</div><svg style="left:13px;top:13px" width="36" height="36" viewBox="0 0 36 36" fill="none" stroke="#c3c6cd" stroke-width="2" stroke-linecap="round" stroke-linejoin="round"><circle cx="18" cy="18" r="16.5"/><path d="M18 10v16M10 18h16"/></svg><div class="a" style="left:73px;top:9px;width:2px;height:41px;background:#1f2833"></div><div class="t" style="left:97px;top:15px;font-size:25px;color:#c3c6cd">1m</div><div class="t" style="left:153px;top:15px;font-size:25px;color:#c3c6cd">3m</div><div class="t" style="left:212px;top:15px;font-size:25px;color:#c3c6cd">5m</div><div class="t" style="left:269px;top:15px;font-size:25px;color:#c3c6cd">12m</div><div class="t" style="left:340px;top:15px;font-size:25px;color:#c3c6cd">15m</div><div class="t" style="left:411px;top:15px;font-size:25px;color:#c3c6cd">30m</div><div class="t" style="left:483px;top:15px;font-size:25px;color:#c3c6cd">1h</div><div class="t" style="left:532px;top:15px;font-size:25px;color:#c3c6cd">4h</div><div class="t" style="left:581px;top:15px;font-size:25px;color:#c3c6cd">D</div><div class="t" style="left:619px;top:15px;font-size:25px;color:#26c48c">W</div><div class="t" style="left:662px;top:15px;font-size:25px;color:#c3c6cd">M</div><svg style="left:707px;top:25px" width="17" height="10" viewBox="0 0 17 10" fill="none" stroke="#c3c6cd" stroke-width="2" stroke-linecap="round" stroke-linejoin="round"><path d="M1.5 2l6.5 6 6.5-6"/></svg><div class="a" style="left:742px;top:9px;width:2px;height:41px;background:#1f2833"></div><svg style="left:766px;top:11px" width="30" height="40" viewBox="0 0 30 40" fill="none" stroke="#27cf94" stroke-width="2" stroke-linecap="round" stroke-linejoin="round"><path d="M8 2v6M8 31v7"/><rect x="4" y="8" width="8" height="23" rx="0.5"/><path d="M22 7v6M22 26v6"/><rect x="18.5" y="13" width="7.5" height="13" rx="0.5"/></svg><svg style="left:820px;top:7px" width="30" height="40" viewBox="0 0 30 40" fill="none" stroke="#c3c6cd" stroke-width="2" stroke-linecap="round" stroke-linejoin="round"><path d="M7.3 6v6"/><rect x="3.2" y="12" width="8.5" height="23.5" rx="0.5"/><path d="M21.6 2v5"/><rect x="17.4" y="7.3" width="8.5" height="14" rx="0.5"/></svg><svg style="left:874px;top:25px" width="16" height="10" viewBox="0 0 16 10" fill="none" stroke="#c3c6cd" stroke-width="2" stroke-linecap="round" stroke-linejoin="round"><path d="M1.5 2l6.5 6 6.5-6"/></svg><div class="a" style="left:908px;top:9px;width:2px;height:41px;background:#1f2833"></div><svg style="left:935px;top:13px" width="30" height="34" viewBox="0 0 30 34" fill="none" stroke="#c3c6cd" stroke-width="2" stroke-linecap="round" stroke-linejoin="round"><path d="M15 3.5c-2.5-2-6-1-6 3v17c0 5-4 6.5-7 4.5"/><path d="M6 12.8h11.5"/><path d="M17 24l9 8.5M26 24l-9 8.5"/></svg><div class="t" style="left:980px;top:15px;font-size:25px;color:#c3c6cd">Indicators</div><svg style="left:1127px;top:15px" width="32" height="32" viewBox="0 0 32 32" fill="none" stroke="#c3c6cd" stroke-width="2" stroke-linecap="round" stroke-linejoin="round"><rect x="1.5" y="1.5" width="11.5" height="11.5" rx="3"/><rect x="18" y="1.5" width="11.5" height="11.5" rx="3"/><rect x="1.5" y="18" width="11.5" height="11.5" rx="3"/><rect x="18" y="18" width="11.5" height="11.5" rx="3"/></svg><svg style="left:1180px;top:10px" width="42" height="42" viewBox="0 0 42 42" fill="none" stroke="#4b4f59" stroke-width="1.8" stroke-linecap="round" stroke-linejoin="round"><circle cx="21" cy="21" r="19.2"/></svg><div class="t" style="left:1194px;top:21px;font-size:18px;color:#c3c6cd">R</div><div class="a" style="left:1245px;top:9px;width:2px;height:41px;background:#1f2833"></div><svg style="left:1265px;top:20px" width="30" height="24" viewBox="0 0 30 24" fill="none" stroke="#c3c6cd" stroke-width="1.9" stroke-linecap="round" stroke-linejoin="round"><path d="M13 1.5v21L1.5 12Z"/><path d="M26 1.5v21L14.5 12Z"/></svg><div id="m_13" class="t fa" style="left:1308.2px;top:15px;font-size:25px;color:#c3c6cd;font-weight:400;transform-origin:0 0;transform:scaleX(0.9397);">Replay</div><div class="a" style="left:1389px;top:9px;width:2px;height:41px;background:#1f2833"></div><svg style="left:1413px;top:15px" width="36" height="32" viewBox="0 0 36 32" fill="none" stroke="#c3c6cd" stroke-width="2.2" stroke-linecap="round" stroke-linejoin="round"><rect x="1.5" y="1.5" width="33" height="29" rx="4.5"/></svg><div class="a" style="left:1471px;top:9px;width:2px;height:41px;background:#1f2833"></div><svg style="left:1500px;top:20px" width="28" height="22" viewBox="0 0 28 22" fill="none" stroke="#c3c6cd" stroke-width="2" stroke-linecap="round" stroke-linejoin="round"><path d="M7 1.5L1.5 7l5.5 5.5"/><path d="M2 7h11c6 0 10 4 10 10v2"/></svg><svg style="left:1567px;top:20px" width="28" height="22" viewBox="0 0 28 22" fill="none" stroke="#444a55" stroke-width="2" stroke-linecap="round" stroke-linejoin="round"><path d="M21 1.5L26.5 7 21 12.5"/><path d="M26 7H15C9 7 5 11 5 17v2"/></svg><div id="m_14" class="t fa" style="left:1966.6px;top:15.3px;font-size:25px;color:#c3c6cd;font-weight:400;transform-origin:0 0;transform:scaleX(0.9452);">BRS001081-1</div><svg style="left:2137px;top:25px" width="17" height="10" viewBox="0 0 17 10" fill="none" stroke="#c3c6cd" stroke-width="2" stroke-linecap="round" stroke-linejoin="round"><path d="M1.5 2l7 6.5 7-6.5"/></svg><div class="a" style="left:2171px;top:9px;width:2px;height:41px;background:#1f2833"></div><svg style="left:2195px;top:9px" width="40" height="42" viewBox="0 0 40 42" fill="none" stroke="#c3c6cd" stroke-width="1.9" stroke-linecap="round" stroke-linejoin="round"><path d="M14 8.5a13 13 0 1 0 16 15"/><path d="M25.5 30l8.5 8.5"/><path d="M19.5 2.5l-5 11h6l-3.5 10 9-13.5h-6l3-7.5z"/></svg><svg style="left:2261px;top:13px" width="40" height="36" viewBox="0 0 40 36" fill="none" stroke="#c3c6cd" stroke-width="2" stroke-linecap="round" stroke-linejoin="round"><path d="M11 2h18l9.5 16-9.5 16H11L1.5 18Z"/><circle cx="20" cy="18" r="7"/></svg><svg style="left:2328px;top:13px" width="41" height="33" viewBox="0 0 41 33" fill="none" stroke="#c3c6cd" stroke-width="2" stroke-linecap="round" stroke-linejoin="round"><path d="M5 6h7l3-4.5h11l3 4.5h7a3.5 3.5 0 0 1 3.5 3.5v18a3.5 3.5 0 0 1-3.5 3.5H5a3.5 3.5 0 0 1-3.5-3.5v-18A3.5 3.5 0 0 1 5 6z"/><circle cx="20.5" cy="18" r="7.5"/></svg><div class="a" style="left:2390px;top:9px;width:2px;height:41px;background:#1f2833"></div><svg style="left:2417px;top:16px" width="31" height="30" viewBox="0 0 31 30" fill="none" stroke="#c3c6cd" stroke-width="2.2" stroke-linecap="round" stroke-linejoin="round"><path d="M2 9V2h7M22 2h7v7M29 21v7h-7M9 28H2v-7"/></svg><svg style="left:2493px;top:14px" width="42" height="34" viewBox="0 0 42 34" fill="none" stroke="#c3c6cd" stroke-width="3" stroke-linecap="round" stroke-linejoin="round"><path d="M2 3.5h37M2 16.5h37M2 30h37"/></svg><svg style="left:22px;top:92px" width="48" height="48" viewBox="0 0 48 48" fill="none" stroke="#22c88e" stroke-width="2.2" stroke-linecap="round" stroke-linejoin="round"><path d="M23.5 3v15M23.5 29v15M3 23.5h15M29 23.5h15"/></svg><svg style="left:36px;top:158px" width="20" height="42" viewBox="0 0 20 42" fill="none" stroke="#c3c6cd" stroke-width="2" stroke-linecap="round" stroke-linejoin="round"><path d="M9.5 2v15.5M9.5 24.5V40"/><circle cx="9.5" cy="21" r="3.6"/></svg><svg style="left:20px;top:220px" width="50" height="44" viewBox="0 0 50 44" fill="none" stroke="#c3c6cd" stroke-width="2" stroke-linecap="round" stroke-linejoin="round"><path d="M6 5.5h36M6 16.5h33M6 27.3h36M13 38.2h29"/><circle cx="43.6" cy="16.4" r="3.6"/><circle cx="5.5" cy="38.2" r="3.6"/></svg><svg style="left:20px;top:284px" width="50" height="44" viewBox="0 0 50 44" fill="none" stroke="#c3c6cd" stroke-width="1.9" stroke-linecap="round" stroke-linejoin="round"><circle cx="14.5" cy="7" r="3.5"/><circle cx="36" cy="7" r="3.5"/><circle cx="22" cy="19" r="3.5"/><circle cx="7" cy="35" r="3.5"/><circle cx="42" cy="34" r="3.5"/><path d="M8.2 31.7l5.3-21.3M16.5 9.7l3.5 6.5M25 17l8.5-8M37.5 10.3l3.5 20.5M24.8 21l14.8 10.5M8.8 32l10.5-11"/></svg><svg style="left:18px;top:350px" width="50" height="42" viewBox="0 0 50 42" fill="none" stroke="#c3c6cd" stroke-width="1.9" stroke-linecap="round" stroke-linejoin="round"><circle cx="8" cy="7" r="3.5"/><path d="M11.5 7h31"/><circle cx="8" cy="22.5" r="3.5"/><path d="M11.5 22.5h27"/><circle cx="42" cy="22.5" r="3.5"/><circle cx="8" cy="33" r="3.5"/><path d="M11.5 33h31"/><path d="M14 17.5l25-9" stroke-dasharray="3 3.5"/></svg><svg style="left:22px;top:413px" width="46" height="44" viewBox="0 0 46 44" fill="none" stroke="#c3c6cd" stroke-width="2" stroke-linecap="round" stroke-linejoin="round"><circle cx="22.4" cy="21.5" r="18"/><circle cx="22.4" cy="21.5" r="3.6"/><circle cx="40.5" cy="21.5" r="3.6" fill="#0f141e"/></svg><svg style="left:30px;top:480px" width="32" height="38" viewBox="0 0 32 38" fill="none" stroke="#c3c6cd" stroke-width="2.1" stroke-linecap="round" stroke-linejoin="round"><path d="M2 3.5h28M16 3.5v31M10 34.5h12"/></svg><svg style="left:24px;top:541px" width="44" height="44" viewBox="0 0 44 44" fill="none" stroke="#c3c6cd" stroke-width="2" stroke-linecap="round" stroke-linejoin="round"><path d="M28 41H7a5 5 0 0 1-5-5V7a5 5 0 0 1 5-5h29a5 5 0 0 1 5 5v21L28 41z"/><path d="M28 41v-8a5 5 0 0 1 5-5h8"/><circle cx="16" cy="18" r="1.3" fill="#c3c6cd"/><circle cx="27" cy="18" r="1.3" fill="#c3c6cd"/><path d="M14.5 25c4 4 10 4 14 0"/></svg><div class="a" style="left:13px;top:606px;width:64px;height:2px;background:#1f2833"></div><svg style="left:20px;top:628px" width="50" height="48" viewBox="0 0 50 48" fill="none" stroke="#c3c6cd" stroke-width="2" stroke-linecap="round" stroke-linejoin="round"><path d="M3 35.5L33.5 5l11.5 11.5L14.5 47z" transform="translate(0,-2)"/><path d="M10 26.5l4 4M15 21.5l3 3M20 16.5l4 4M25 11.5l3 3M30 6.5l4 4" transform="translate(0,-2)"/></svg><svg style="left:24px;top:695px" width="40" height="40" viewBox="0 0 40 40" fill="none" stroke="#c3c6cd" stroke-width="2" stroke-linecap="round" stroke-linejoin="round"><circle cx="17.5" cy="18" r="15.3"/><path d="M28.5 29.5l6 6M17.5 11v14M10.5 18h14"/></svg><div class="a" style="left:13px;top:758px;width:64px;height:2px;background:#1f2833"></div><svg style="left:27px;top:783px" width="36" height="40" viewBox="0 0 36 40" fill="none" stroke="#c3c6cd" stroke-width="2" stroke-linecap="round" stroke-linejoin="round"><path d="M3.5 37V16.5a14.5 14.5 0 0 1 29 0V37h-9V16.5a5.5 5.5 0 0 0-11 0V37Z"/><path d="M3.5 29.5h9M23.5 29.5h9"/></svg><svg style="left:22px;top:847px" width="46" height="44" viewBox="0 0 46 44" fill="none" stroke="#c3c6cd" stroke-width="1.9" stroke-linecap="round" stroke-linejoin="round"><path d="M3 31.5L27 7.5a3.5 3.5 0 0 1 5 0l1.5 1.5a3.5 3.5 0 0 1 0 5L9.5 38H3Z"/><path d="M3 31.5l6.5 6.5"/><rect x="23" y="30" width="16" height="11" rx="2"/><path d="M26.5 30v-4a4.5 4.5 0 0 1 9 0" /><path d="M31 34v3"/></svg><svg style="left:28px;top:912px" width="34" height="40" viewBox="0 0 34 40" fill="none" stroke="#c3c6cd" stroke-width="2.1" stroke-linecap="round" stroke-linejoin="round"><rect x="2.5" y="16" width="28" height="21" rx="4"/><path d="M8 16V10.5a8.5 8.5 0 0 1 17 0"/><path d="M16.5 24.5v4"/></svg><svg style="left:22px;top:972px" width="46" height="46" viewBox="0 0 46 46" fill="none" stroke="#c3c6cd" stroke-width="1.9" stroke-linecap="round" stroke-linejoin="round"><path d="M3.5 16C10 0 31 0 38 16C31 32 10 32 3.5 16Z"/><circle cx="21" cy="16.4" r="5.8"/><path d="M21 40.5c2-5 7-6 9-3.5c-1.5 2.5-5 3.5-9 3.5Z"/><path d="M31 35.5l5-3.5c1 .5 1.5 1 2 2"/></svg><div class="a" style="left:13px;top:1038px;width:64px;height:2px;background:#1f2833"></div><svg style="left:26px;top:1062px" width="38" height="42" viewBox="0 0 38 42" fill="none" stroke="#c3c6cd" stroke-width="2" stroke-linecap="round" stroke-linejoin="round"><path d="M2 8h34M13 8V4.5a2 2 0 0 1 2-2h8a2 2 0 0 1 2 2V8M6 8l3 30.5a2 2 0 0 0 2 1.5h16a2 2 0 0 0 2-1.5L32 8"/></svg><svg style="left:24px;top:1356px" width="40" height="40" viewBox="0 0 40 40" fill="none" stroke="#c3c6cd" stroke-width="2" stroke-linecap="round" stroke-linejoin="round"><path d="M20 3l4.9 11.5 12.4 1.1-9.4 8.2 2.8 12.2L20 29.5 9.3 36l2.8-12.2-9.4-8.2 12.4-1.1Z"/></svg><svg style="left:2492px;top:79px" width="44" height="44" viewBox="0 0 44 44" fill="none" stroke="#c3c6cd" stroke-width="2.2" stroke-linecap="round" stroke-linejoin="round"><circle cx="18.5" cy="18.5" r="15"/><path d="M29.5 29.5l11.5 11.5"/><path d="M13.5 24v-6M18.5 24V11.5M23.5 24v-8"/></svg><svg style="left:2496px;top:152px" width="36" height="36" viewBox="0 0 36 36" fill="none" stroke="#c3c6cd" stroke-width="2" stroke-linecap="round" stroke-linejoin="round"><rect x="1.5" y="1.5" width="33" height="33" rx="4"/><path d="M23 11.5c-1-2-3-3-5.5-3c-3 0-5 1.6-5 4s2 3.4 5 4s5.5 1.8 5.5 4.5s-2.5 4.3-5.5 4.3c-2.6 0-4.6-1.2-5.6-3.3M17.8 5.5v3M17.8 25v3"/></svg><svg style="left:2493px;top:217px" width="42" height="42" viewBox="0 0 42 42" fill="none" stroke="#c3c6cd" stroke-width="2" stroke-linecap="round" stroke-linejoin="round"><circle cx="21" cy="22" r="15.5"/><path d="M21 14.5v15M13.5 22h15"/><path d="M3 8.5a6 6 0 0 1 9.5-5.5M39 8.5a6 6 0 0 0-9.5-5.5M9 36l-4 4M33 36l4 4"/></svg><svg style="left:2493px;top:284px" width="42" height="40" viewBox="0 0 42 40" fill="none" stroke="#c3c6cd" stroke-width="2" stroke-linecap="round" stroke-linejoin="round"><path d="M21 1.5v23M11.5 15.5l9.5 9.5 9.5-9.5"/><path d="M12 24.5H5a3.5 3.5 0 0 0-3.5 3.5v6A3.5 3.5 0 0 0 5 37.5h32a3.5 3.5 0 0 0 3.5-3.5v-6A3.5 3.5 0 0 0 37 24.5h-7"/><circle cx="33.5" cy="31" r="1.3" fill="#c3c6cd"/></svg><svg style="left:2485px;top:345px" width="60" height="60" viewBox="0 0 60 60" fill="none" stroke="#c3c6cd" stroke-width="2" stroke-linecap="round" stroke-linejoin="round"><path d="M21.4 15H47.7L38 27.9V38.8L31.2 34V27.9Z"/><path d="M19.4 19H9.7L19.8 32V36.4L25.5 40.8V31.1L27.9 29.5"/></svg><svg style="left:2496px;top:422px" width="36" height="38" viewBox="0 0 36 38" fill="none" stroke="#c3c6cd" stroke-width="2" stroke-linecap="round" stroke-linejoin="round"><rect x="1" y="5" width="34" height="33" rx="5"/><path d="M1 11.4h34M8.9 0.5v6M26.9 0.5v6"/></svg><svg style="left:2493px;top:491px" width="42" height="34" viewBox="0 0 42 34" fill="none" stroke="#c3c6cd" stroke-width="2" stroke-linecap="round" stroke-linejoin="round"><path d="M1.6 11.6L21 2.2 40.2 11.6 21 23Z"/><path d="M7.5 18.7L1.6 22 21 33 40.2 22 34.3 18.7"/></svg><svg style="left:2485px;top:546px" width="60" height="60" viewBox="0 0 60 60" fill="none" stroke="#c3c6cd" stroke-width="2" stroke-linecap="round" stroke-linejoin="round"><path d="M28.9 14.5C36 20 36 40.5 28.9 46.1A15.8 15.8 0 0 0 28.9 14.5Z" fill="#c3c6cd"/><circle cx="28.9" cy="30.3" r="15.8"/><path d="M27 14.8C20.5 21 20.5 39.5 27 45.8"/><path d="M14.5 23.8C20 22.5 28 22.5 34 24M14.5 36.8C20 38.1 28 38.1 34 36.6"/></svg><svg style="left:2490px;top:1045px" width="48" height="48" viewBox="0 0 48 48" fill="none" stroke="#c3c6cd" stroke-width="2" stroke-linecap="round" stroke-linejoin="round"><path d="M5.5 28.5V23a18.7 18.7 0 0 1 37.4 0v14a4 4 0 0 1-4 4h-8"/><path d="M15 17h-1.5a4 4 0 0 0-4 4v4a4 4 0 0 0 4 4H15z"/><path d="M33.5 17H35a4 4 0 0 1 4 4v4a4 4 0 0 1-4 4h-1.5z" transform="translate(-4.5,0)"/><rect x="19" y="38.5" width="12" height="5" rx="2.5"/></svg><svg style="left:2490px;top:1113px" width="48" height="48" viewBox="0 0 48 48" fill="none" stroke="#c3c6cd" stroke-width="2" stroke-linecap="round" stroke-linejoin="round"><circle cx="34.6" cy="12.8" r="5.4"/><circle cx="11.9" cy="23.3" r="5.4"/><circle cx="34.6" cy="34.6" r="5.4"/><path d="M16.8 21l12.9-6M16.8 25.6l12.9 6.7"/></svg><svg style="left:2490px;top:1181px" width="48" height="48" viewBox="0 0 48 48" fill="none" stroke="#c3c6cd" stroke-width="2" stroke-linecap="round" stroke-linejoin="round"><rect x="4.9" y="8.6" width="37.6" height="29.8" rx="4"/><path d="M4.9 14.5h37.6M4.9 19.3h37.6M11 31.4h4.5M19.5 31.4h8.5"/></svg><svg style="left:2493px;top:1254px" width="42" height="36" viewBox="0 0 42 36" fill="none" stroke="#c3c6cd" stroke-width="2" stroke-linecap="round" stroke-linejoin="round"><path d="M14 31c-6 0-10-2-11.5-4c3-3 3-7 4-12c1-6 5-10 10-10c3 0 5 1 7 3"/><path d="M28 31c6 0 10-2 11.5-4c-3-3-3-7-4-12c-1-6-5-10-10-10c-5 0-9 4-10 10c-1 5-1 9-4 12c1.5 2 5.5 4 12 4z"/><path d="M18 33c1 2.5 3 3 4 3M30 33c-1 2.5-3 3-4 3"/></svg><svg style="left:2494px;top:1320px" width="40" height="40" viewBox="0 0 40 40" fill="none" stroke="#c3c6cd" stroke-width="2" stroke-linecap="round" stroke-linejoin="round"><circle cx="20" cy="20" r="18.6"/><path d="M20 17v10M17 27h6"/><circle cx="20" cy="11.5" r="1.6" fill="#c3c6cd"/></svg><svg style="left:2493px;top:1386px" width="42" height="42" viewBox="0 0 42 42" fill="none" stroke="#ee3b4b" stroke-width="2.4" stroke-linecap="round" stroke-linejoin="round"><path d="M12 8.5a16.5 16.5 0 1 0 18 0"/><path d="M21 2.5v16"/></svg><svg style="left:2494px;top:1455.5px" width="39" height="39" viewBox="0 0 41 41"><clipPath id="av"><circle cx="20.5" cy="20.5" r="20.5"/></clipPath><g clip-path="url(#av)"><rect width="41" height="41" fill="#e3edf2"/><path d="M4 42c1-7 7-9.5 16.5-9.5S36 35 37 42z" fill="#3b5282"/><path d="M16 31l4.5 11 4.5-11z" fill="#ffffff"/><path d="M19.6 33h1.8l1 9h-3.8z" fill="#1f5fae"/><rect x="17" y="25" width="7" height="7" fill="#e6a57a"/><ellipse cx="20.5" cy="19" rx="7" ry="8.5" fill="#f0b88e"/><path d="M13 18c-1-8 4-12 8.5-12c5 0 8.5 3 7.5 11c-1-3-2-5-4-5.5c-3 1.5-8 1.5-10.5 0.5c-1 1-1.3 3-1.5 6z" fill="#4a2c1d"/></g></svg><svg style="left:2379px;top:1397px" width="34" height="30" viewBox="0 0 34 30" fill="none" stroke="#c3c6cd" stroke-width="2" stroke-linecap="round" stroke-linejoin="round"><path d="M9.5 2h15l8 13-8 13h-15l-8-13Z"/><circle cx="17" cy="15" r="5"/></svg><div id="m_15" class="t fa" style="left:192.8px;top:1468.5px;font-size:20px;color:#c3c6cd;font-weight:700;direction:rtl;transform-origin:0 0;transform:scaleX(0.7232);">اعتبار</div><div id="m_16" class="t fa" style="left:20.2px;top:1468.5px;font-size:20px;color:#c3c6cd;font-weight:700;direction:rtl;transform-origin:0 0;transform:scaleX(0.8938);">253 روز و 08:01:00</div><svg style="left:250px;top:1464px" width="30" height="35" viewBox="0 0 30 35" fill="none" stroke="#c3c6cd" stroke-width="2" stroke-linecap="round" stroke-linejoin="round"><rect x="1.5" y="5" width="27" height="28" rx="3.5"/><path d="M1.5 12.5h27M8 1.5v6M22 1.5v6M9.5 22.5l4 4 7-7"/></svg><div class="a" style="left:302px;top:1453px;width:2px;height:56px;background:#1f2833"></div><div id="m_17" class="t fa" style="left:324.8px;top:1468.5px;font-size:20px;color:#c3c6cd;font-weight:700;direction:rtl;transform-origin:0 0;transform:scaleX(0.7443);">اسکرینر</div><svg style="left:397px;top:1465px" width="35" height="34" viewBox="0 0 35 34" fill="none" stroke="#c3c6cd" stroke-width="2" stroke-linecap="round" stroke-linejoin="round"><path d="M31 16.5A15 15 0 1 1 22.5 3"/><path d="M25 16.5a8.5 8.5 0 1 1-6-8" stroke-dasharray="4 2.5"/><circle cx="16.5" cy="17" r="2.5"/><path d="M18 15.5L32 2"/></svg><div class="a" style="left:452px;top:1453px;width:2px;height:56px;background:#1f2833"></div><div id="m_18" class="t fa" style="left:1705px;top:1468.5px;font-size:20px;color:#22c77a;font-weight:700;direction:rtl;transform-origin:0 0;transform:scaleX(0.7541);">تغییر سرور</div><div class="t" style="left:1808.5px;top:1468.5px;font-size:20px;color:#c3c6cd">-</div><div id="m_19" class="t fa" style="left:1837.6px;top:1468.5px;font-size:20px;color:#c3c6cd;font-weight:400;direction:rtl;transform-origin:0 0;transform:scaleX(0.9636);">ایران (448ms)</div><svg style="left:1967px;top:1465px" width="36" height="32" viewBox="0 0 36 32" fill="none" stroke="#c3c6cd" stroke-width="2" stroke-linecap="round" stroke-linejoin="round"><rect x="1.5" y="1.5" width="32" height="12" rx="3"/><rect x="1.5" y="17" width="32" height="12" rx="3"/><path d="M22 7.5h.5M27 7.5h.5M22 23h.5M27 23h.5"/></svg><div id="m_20" class="t fa" style="left:2036.3px;top:1469.5px;font-size:20px;color:#c3c6cd;font-weight:400;transform-origin:0 0;transform:scaleX(0.9641);">02:00:44</div><svg style="left:2145px;top:1463px" width="34" height="34" viewBox="0 0 34 34" fill="none" stroke="#c3c6cd" stroke-width="2" stroke-linecap="round" stroke-linejoin="round"><path d="M29 17A13 13 0 1 1 22 5.5"/><path d="M22 1.5v7.5h7.5" /></svg><div class="a" style="left:2197px;top:1453px;width:2px;height:56px;background:#1f2833"></div><div id="m_21" class="t fa" style="left:2220px;top:1468.5px;font-size:20px;color:#c3c6cd;font-weight:700;direction:rtl;transform-origin:0 0;transform:scaleX(0.8365);">تعدیل شده</div><div class="a" style="left:2330px;top:1453px;width:2px;height:56px;background:#1f2833"></div><svg style="left:2350px;top:1464px" width="36" height="32" viewBox="0 0 36 32" fill="none" stroke="#c3c6cd" stroke-width="1.8" stroke-linecap="round" stroke-linejoin="round"><path d="M3 16c5-9 25-9 30 0"/><path d="M6 19c3-5 9-7 14-6M9.5 22c2-3 5-4.5 8-4.5M3 3l29 27M8 7l22 20M3 11l16 15"/></svg><div class="a" style="left:2403px;top:1454px;width:56px;height:56px;border-radius:6px;background:#18212b"></div><svg style="left:2411px;top:1461px" width="40" height="42" viewBox="0 0 40 42" fill="none" stroke="#22c55e" stroke-width="1.8" stroke-linecap="round" stroke-linejoin="round"><rect x="2" y="30" width="4" height="7" rx="2"/><rect x="11" y="22" width="4" height="15" rx="2"/><rect x="20" y="13" width="4" height="24" rx="2"/><rect x="29" y="4" width="4" height="33" rx="2"/></svg>
</body></html>
